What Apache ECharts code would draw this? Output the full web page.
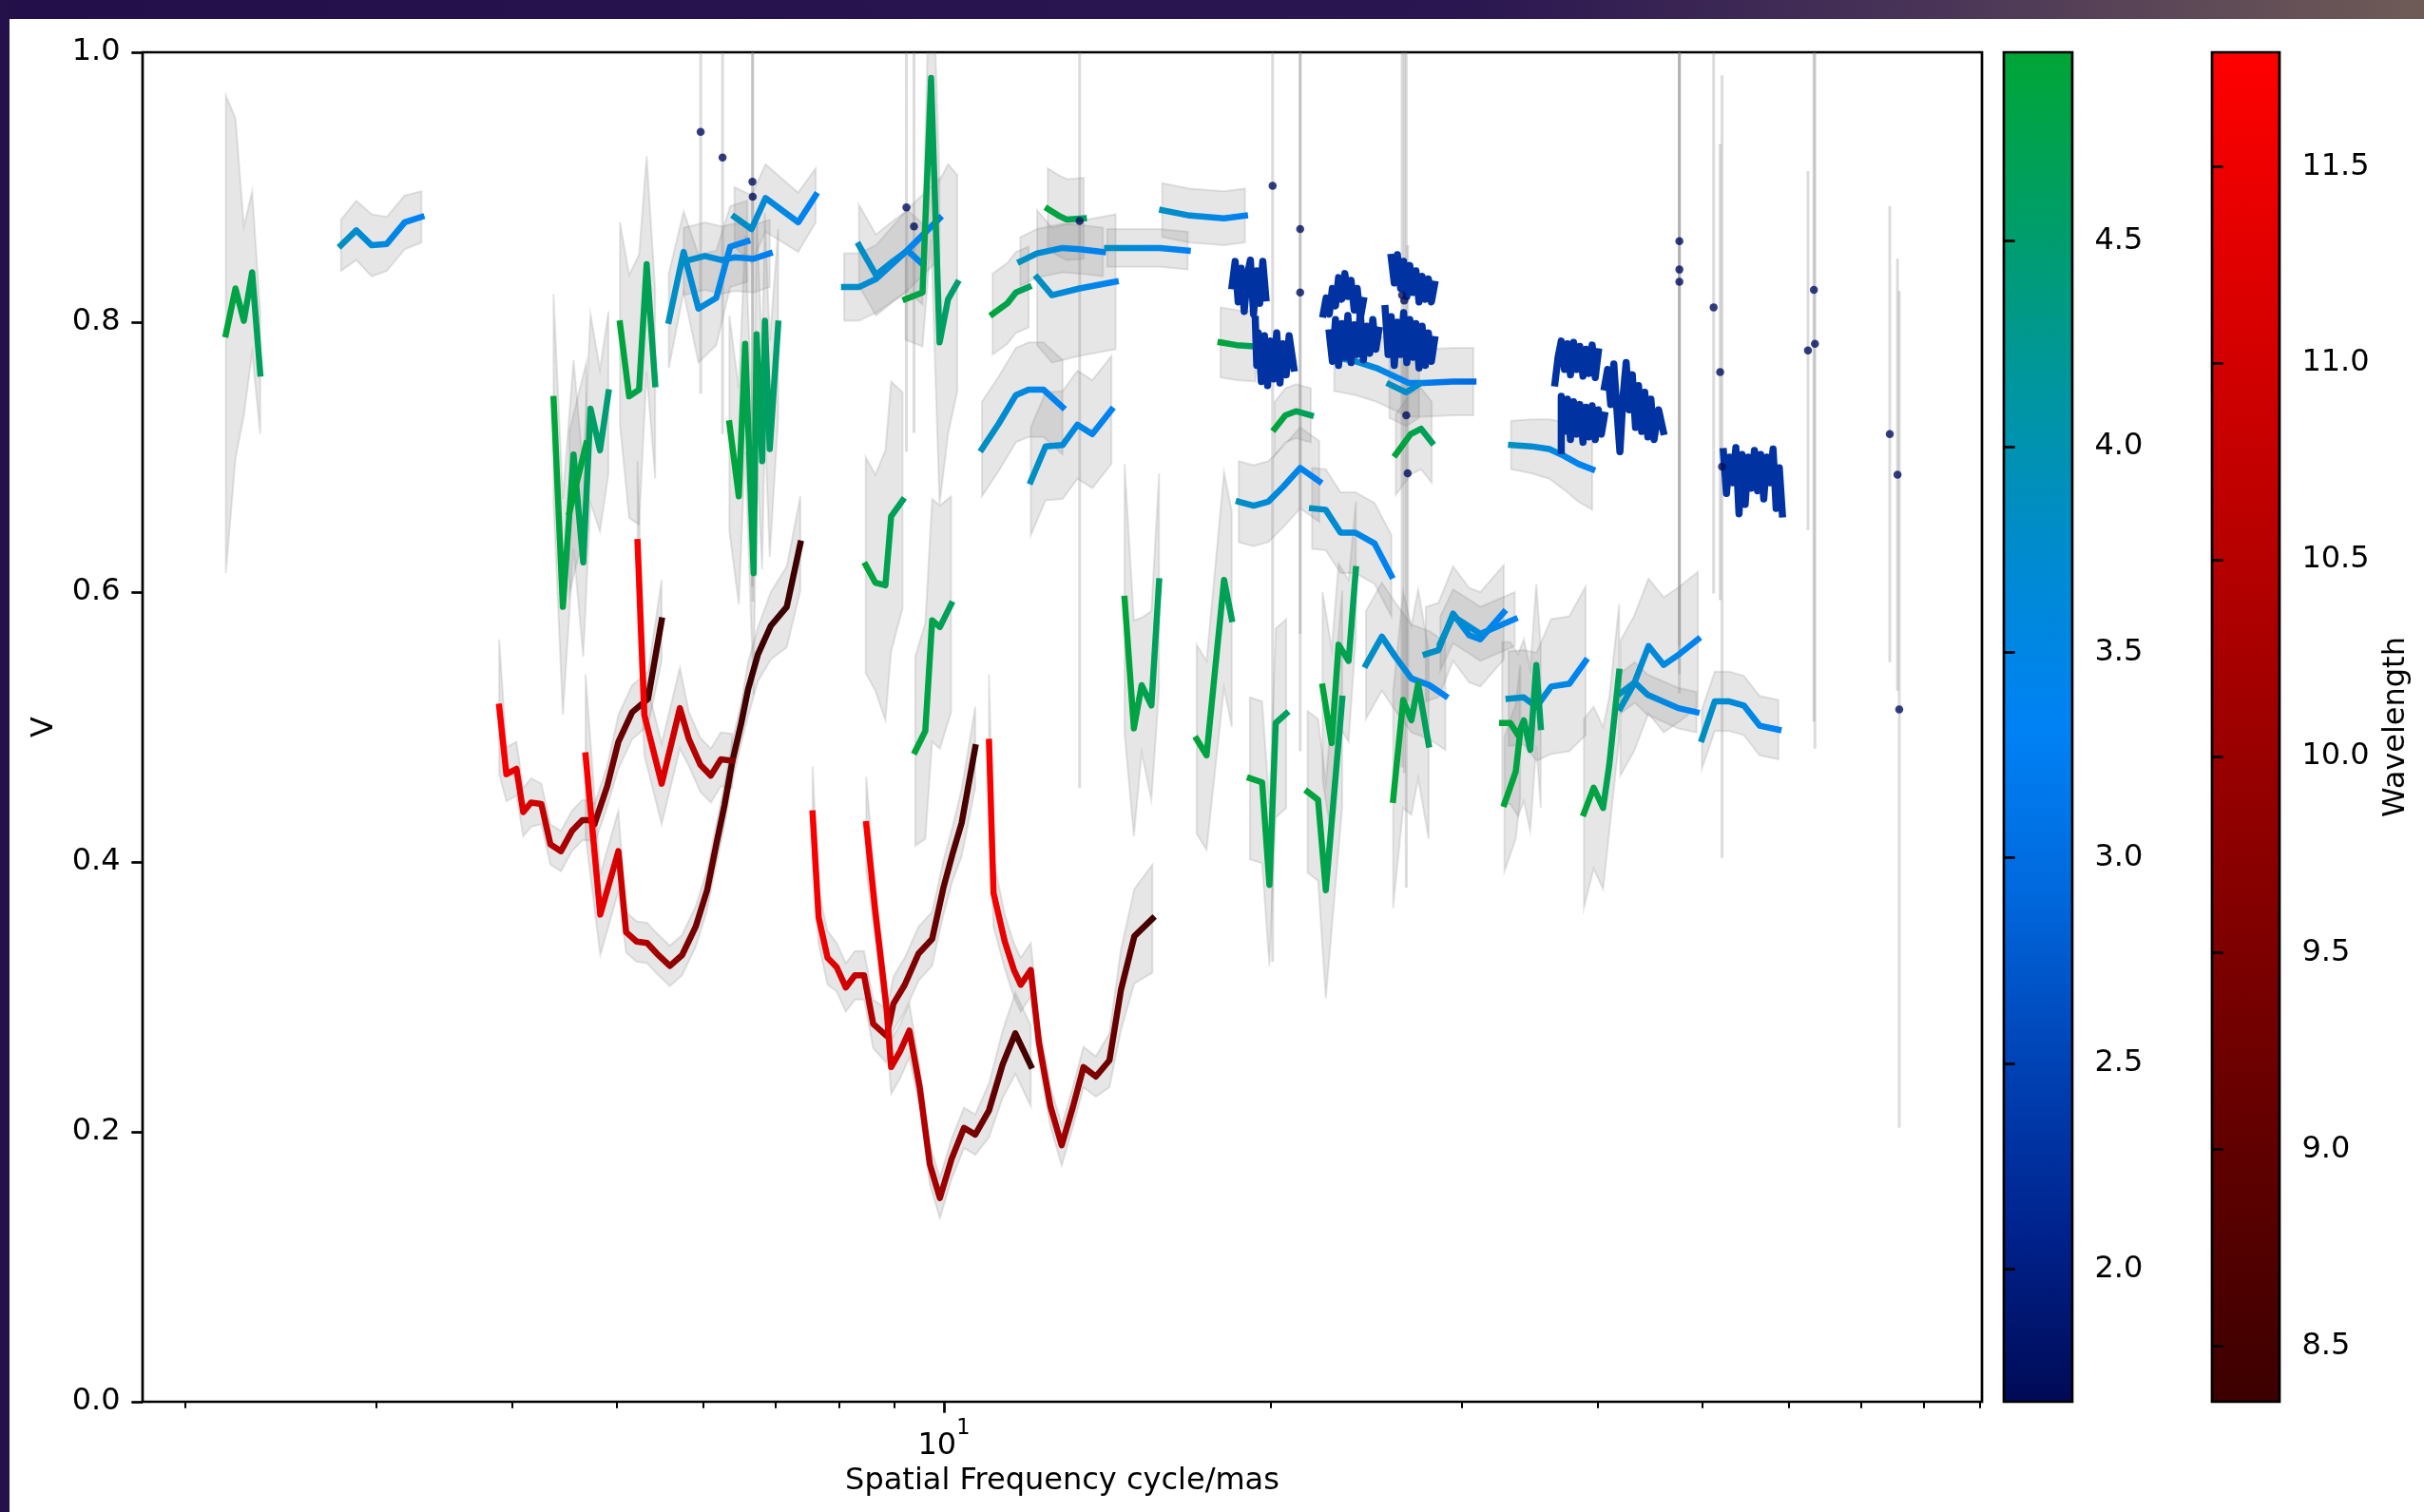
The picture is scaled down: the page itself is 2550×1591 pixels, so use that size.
<!DOCTYPE html>
<html>
<head>
<meta charset="utf-8">
<script src="https://cdn.jsdelivr.net/npm/echarts@6/dist/echarts.min.js"></script>
<style>
html, body { margin: 0; padding: 0; background: #fff; }
#chart { width: 2550px; height: 1591px; }
</style>
</head>
<body>
<div id="chart"></div>
<script>
// each segment: [spatial frequency (cycle/mas), V, error]
// N band (red)
const R1 = [[3.893,0.515,0.05],[3.953,0.465,0.02],[4.038,0.469,0.02],[4.097,0.437,0.018],[4.165,0.444,0.018],[4.257,0.443,0.015],[4.340,0.413,0.015],[4.438,0.408,0.015],[4.543,0.423,0.015],[4.644,0.431,0.015],[4.713,0.431,0.015],[4.765,0.428,0.015],[4.895,0.456,0.015],[5.013,0.489,0.02],[5.162,0.511,0.02],[5.339,0.521,0.02],[5.495,0.579,0.03]];
const R2 = [[4.676,0.479,0.06],[4.824,0.361,0.03],[5.013,0.408,0.03],[5.096,0.348,0.015],[5.211,0.341,0.015],[5.328,0.340,0.015],[5.441,0.332,0.015],[5.592,0.323,0.015],[5.738,0.331,0.015],[5.906,0.352,0.015],[6.051,0.379,0.015],[6.170,0.413,0.015],[6.278,0.442,0.015],[6.382,0.474,0.015],[6.506,0.503,0.015],[6.601,0.528,0.02],[6.741,0.554,0.02],[6.927,0.575,0.025],[7.165,0.589,0.03],[7.375,0.636,0.035]];
const R3 = [[5.221,0.637,0.06],[5.297,0.509,0.03],[5.495,0.458,0.03],[5.712,0.514,0.03],[5.822,0.491,0.02],[5.965,0.472,0.02],[6.099,0.464,0.02],[6.229,0.476,0.02],[6.382,0.475,0.02]];
const R4 = [[7.569,0.436,0.035],[7.666,0.359,0.02],[7.813,0.329,0.02],[7.966,0.322,0.018],[8.122,0.307,0.018],[8.280,0.316,0.018],[8.442,0.316,0.018],[8.607,0.280,0.018],[8.857,0.271,0.02],[8.985,0.295,0.02],[9.203,0.309,0.02],[9.475,0.332,0.02],[9.754,0.343,0.02],[9.990,0.381,0.02],[10.185,0.406,0.02],[10.384,0.429,0.025],[10.688,0.485,0.03]];
const R5 = [[8.481,0.428,0.035],[8.646,0.363,0.02],[8.857,0.291,0.02],[8.941,0.248,0.02],[9.116,0.260,0.02],[9.294,0.275,0.02],[9.500,0.233,0.015],[9.706,0.176,0.015],[9.915,0.151,0.015],[10.165,0.180,0.015],[10.436,0.203,0.015],[10.688,0.198,0.015],[11.005,0.216,0.02],[11.327,0.250,0.025],[11.636,0.273,0.03],[12.024,0.249,0.03]];
const R6 = [[11.005,0.489,0.05],[11.110,0.377,0.025],[11.379,0.341,0.02],[11.601,0.320,0.02],[11.770,0.309,0.02],[12.024,0.320,0.02],[12.235,0.266,0.015],[12.535,0.219,0.015],[12.839,0.190,0.015],[13.154,0.219,0.015],[13.447,0.248,0.015],[13.804,0.241,0.015],[14.208,0.253,0.02],[14.557,0.305,0.03],[14.979,0.345,0.035],[15.565,0.358,0.04]];

// M band (green)
const G1 = [[2.18,0.791,0.177],[2.225,0.825,0.126],[2.265,0.801,0.07],[2.305,0.837,0.06],[2.345,0.762,0.045]];
const G2 = [[4.369,0.743,0.078],[4.456,0.589,0.08],[4.558,0.702,0.07],[4.653,0.622,0.07],[4.725,0.736,0.07],[4.821,0.705,0.06],[4.909,0.748,0.06]];
const G2b = [[4.518,0.659,0.06],[4.683,0.710,0.06]];
const G3 = [[5.030,0.799,0.075],[5.129,0.745,0.09],[5.238,0.750,0.1],[5.323,0.843,0.08],[5.420,0.754,0.07]];
const G4 = [[6.344,0.725,0.08],[6.472,0.671,0.08],[6.560,0.784,0.08],[6.679,0.614,0.09],[6.721,0.791,0.09],[6.801,0.697,0.08],[6.841,0.801,0.08],[6.911,0.706,0.08],[7.037,0.799,0.07]];
const G5 = [[8.472,0.620,0.08],[8.646,0.607,0.08],[8.833,0.605,0.1],[8.941,0.656,0.1],[9.161,0.668,0.08]];
const G6 = [[9.410,0.482,0.07],[9.613,0.497,0.08],[9.754,0.579,0.09],[9.915,0.574,0.09],[10.155,0.591,0.08]];
const G7 = [[14.672,0.595,0.1],[14.964,0.499,0.08],[15.212,0.531,0.05],[15.530,0.516,0.07],[15.786,0.608,0.08]];
const G8 = [[9.218,0.817,0.03],[9.557,0.822,0.04],[9.732,0.981,0.12],[9.909,0.785,0.12],[10.089,0.817,0.1],[10.289,0.829,0.08]];
const G9a = [[11.088,0.806,0.03],[11.443,0.814,0.03],[11.651,0.822,0.03],[11.969,0.826,0.03]];
const G9b = [[12.465,0.884,0.03],[12.751,0.879,0.03],[12.983,0.876,0.03],[13.455,0.877,0.03]];
const G10 = [[17.983,0.785,0.026],[18.606,0.783,0.026],[19.374,0.782,0.026]];
const G11 = [[20.171,0.721,0.02],[20.633,0.731,0.02],[21.105,0.734,0.02],[21.780,0.731,0.02]];
const G12 = [[26.081,0.702,0.03],[26.914,0.717,0.03],[27.521,0.721,0.03],[28.151,0.711,0.03]];
const G14 = [[17.096,0.491,0.07],[17.458,0.479,0.07],[18.118,0.609,0.08],[18.418,0.580,0.08]];
const G15 = [[19.140,0.462,0.06],[19.643,0.459,0.06],[19.948,0.383,0.06],[20.218,0.503,0.07],[20.673,0.510,0.07]];
const G16a = [[21.630,0.452,0.06],[22.118,0.446,0.06],[22.484,0.379,0.08],[23.283,0.521,0.08]];
const G16b = [[22.330,0.530,0.07],[22.766,0.488,0.07],[23.101,0.561,0.06],[23.598,0.549,0.06],[23.965,0.617,0.05]];
const G17 = [[25.935,0.446,0.08],[26.494,0.520,0.08],[26.958,0.505,0.07],[27.350,0.532,0.07],[27.967,0.487,0.07]];
const G18a = [[32.682,0.503,0.06],[33.255,0.503,0.06],[33.804,0.494,0.06],[34.228,0.505,0.06],[34.691,0.483,0.06],[35.138,0.546,0.06],[35.474,0.500,0.06]];
const G18b = [[32.843,0.443,0.05],[33.639,0.467,0.05],[33.960,0.496,0.05]];
const G19 = [[38.875,0.436,0.07],[39.686,0.455,0.06],[40.488,0.440,0.06],[41.023,0.472,0.05],[41.893,0.541,0.05]];

// L band (blue)
const B1 = [[2.783,0.857,0.019],[2.875,0.868,0.022],[2.970,0.857,0.023],[3.067,0.858,0.02],[3.186,0.874,0.02],[3.301,0.878,0.019]];
const B2a = [[5.579,0.801,0.035],[5.757,0.852,0.03],[5.941,0.810,0.04],[6.170,0.818,0.035],[6.356,0.856,0.03],[6.590,0.860,0.03]];
const B2b = [[5.757,0.845,0.025],[6.022,0.849,0.025],[6.243,0.846,0.025],[6.413,0.848,0.025],[6.679,0.847,0.025],[6.911,0.851,0.025]];
const B3 = [[6.413,0.878,0.022],[6.649,0.869,0.025],[6.850,0.892,0.025],[7.341,0.874,0.022],[7.619,0.894,0.02]];
const B4 = [[8.092,0.826,0.025],[8.351,0.826,0.025],[8.658,0.832,0.025],[9.218,0.852,0.03],[9.909,0.877,0.03]];
const B5 = [[8.351,0.857,0.03],[8.658,0.835,0.03],[8.973,0.845,0.03],[9.260,0.853,0.03],[9.557,0.843,0.03]];
const B6 = [[11.759,0.845,0.018],[12.186,0.851,0.018],[12.864,0.855,0.018],[13.337,0.854,0.018],[14.014,0.852,0.018]];
const B7 = [[12.186,0.833,0.05],[12.576,0.820,0.05],[13.337,0.825,0.05],[14.396,0.830,0.05]];
const B8 = [[15.890,0.883,0.02],[16.851,0.879,0.02],[18.113,0.877,0.02],[18.940,0.879,0.02]];
const B9 = [[14.138,0.855,0.014],[14.993,0.855,0.014],[15.817,0.855,0.014],[16.774,0.853,0.014]];
const B10 = [[10.840,0.706,0.035],[11.238,0.725,0.035],[11.651,0.746,0.035],[11.969,0.750,0.035],[12.351,0.750,0.035],[12.864,0.737,0.035]];
const B11 = [[12.024,0.682,0.04],[12.408,0.708,0.04],[12.864,0.709,0.04],[13.276,0.724,0.04],[13.700,0.717,0.04],[14.269,0.735,0.04]];
const B12 = [[18.692,0.667,0.03],[19.290,0.664,0.03],[19.902,0.667,0.03],[20.538,0.678,0.03],[21.293,0.692,0.03],[22.176,0.682,0.03]];
const B13 = [[21.837,0.662,0.03],[22.477,0.661,0.03],[23.199,0.644,0.03],[23.941,0.644,0.03],[24.935,0.636,0.03],[25.842,0.612,0.03]];
const B14 = [[22.889,0.774,0.025],[23.941,0.771,0.025],[25.041,0.766,0.025],[26.791,0.755,0.025],[27.648,0.755,0.025],[29.454,0.756,0.025],[30.747,0.756,0.025]];
const B15 = [[25.732,0.754,0.025],[26.668,0.748,0.025],[27.404,0.754,0.025]];
const B16 = [[27.793,0.554,0.035],[28.551,0.557,0.035],[29.454,0.584,0.035],[30.486,0.568,0.035],[31.204,0.565,0.035],[32.800,0.585,0.035]];
const B17 = [[28.664,0.562,0.02],[29.454,0.582,0.02],[30.257,0.576,0.02],[31.204,0.569,0.02],[33.572,0.580,0.02]];
const B19 = [[24.481,0.546,0.04],[25.322,0.567,0.04],[26.063,0.552,0.04],[26.958,0.536,0.04],[28.013,0.531,0.04],[28.975,0.523,0.04]];
const B20 = [[33.135,0.521,0.035],[34.217,0.522,0.035],[35.161,0.515,0.04],[36.264,0.530,0.05],[37.683,0.532,0.05],[39.015,0.549,0.055]];
const B21 = [[42.003,0.514,0.05],[43.232,0.532,0.05],[44.586,0.560,0.05],[46.050,0.546,0.05],[47.601,0.554,0.05],[49.510,0.565,0.05]];
const B22 = [[42.003,0.525,0.015],[43.303,0.533,0.015],[44.484,0.524,0.015],[47.491,0.514,0.015],[49.364,0.511,0.015]];
const B23 = [[49.93,0.491,0.022],[51.312,0.519,0.022],[52.919,0.519,0.022],[54.575,0.516,0.022],[56.431,0.501,0.022],[58.735,0.498,0.022]];
const B32 = [[33.310,0.709,0.018],[34.748,0.708,0.02],[36.122,0.706,0.022],[37.252,0.701,0.025],[38.419,0.695,0.028],[39.570,0.691,0.03]];

// K band (dense navy spectra), [frequency, V]
const K1a = [[18.43,0.827],[18.55,0.845],[18.67,0.815],[18.79,0.840],[18.91,0.808],[19.04,0.835],[19.16,0.846],[19.29,0.806],[19.42,0.838],[19.54,0.814],[19.67,0.845],[19.80,0.818]];
const K1b = [[19.36,0.802],[19.42,0.768],[19.48,0.792],[19.61,0.756],[19.74,0.790],[19.87,0.753],[20.00,0.786],[20.13,0.758],[20.26,0.792],[20.40,0.755],[20.53,0.784],[20.67,0.761],[20.80,0.790],[21.01,0.766]];
const K2a = [[22.36,0.806],[22.50,0.818],[22.65,0.806],[22.80,0.825],[22.95,0.812],[23.10,0.833],[23.26,0.817],[23.41,0.836],[23.56,0.819],[23.72,0.831],[23.88,0.809],[24.03,0.825],[24.19,0.803],[24.35,0.816]];
const K2b = [[22.65,0.792],[22.80,0.771],[22.95,0.802],[23.10,0.768],[23.26,0.799],[23.41,0.774],[23.56,0.805],[23.72,0.770],[23.88,0.798],[24.03,0.776],[24.19,0.807],[24.35,0.772],[24.52,0.797],[24.68,0.777],[24.84,0.802],[25.00,0.780],[25.16,0.794]];
const K2c = [[25.83,0.848],[26.00,0.829],[26.17,0.850],[26.35,0.825],[26.52,0.845],[26.70,0.819],[26.87,0.842],[27.05,0.822],[27.22,0.838],[27.40,0.815],[27.58,0.834],[27.77,0.817],[27.95,0.832],[28.13,0.815],[28.32,0.828]];
const K2d = [[25.50,0.810],[25.66,0.776],[25.83,0.804],[26.00,0.768],[26.17,0.800],[26.35,0.776],[26.52,0.807],[26.70,0.770],[26.87,0.802],[27.05,0.774],[27.22,0.799],[27.40,0.766],[27.58,0.797],[27.77,0.768],[27.95,0.792],[28.13,0.771],[28.32,0.787]];
const K3a = [[36.56,0.755],[36.80,0.774],[37.05,0.786],[37.30,0.765],[37.54,0.784],[37.78,0.761],[38.03,0.785],[38.28,0.765],[38.54,0.782],[38.80,0.760],[39.05,0.780],[39.30,0.762],[39.56,0.783],[39.82,0.759],[40.08,0.778]];
const K3b = [[37.05,0.705],[37.05,0.745],[37.30,0.719],[37.54,0.743],[37.78,0.713],[38.03,0.741],[38.28,0.717],[38.54,0.739],[38.80,0.711],[39.05,0.737],[39.30,0.715],[39.56,0.738],[39.82,0.713],[40.08,0.735],[40.34,0.717],[40.61,0.731]];
const K3c = [[40.61,0.752],[40.88,0.765],[41.15,0.739],[41.42,0.769],[41.69,0.735],[41.96,0.704],[42.24,0.745],[42.52,0.770],[42.80,0.735],[43.08,0.761],[43.37,0.722],[43.65,0.753],[43.94,0.719],[44.23,0.748],[44.52,0.715],[44.81,0.743],[45.11,0.713],[45.55,0.735],[46.01,0.719]];
const K4 = [[52.26,0.704],[52.60,0.673],[52.96,0.700],[53.31,0.681],[53.66,0.707],[54.02,0.658],[54.37,0.702],[54.73,0.665],[55.09,0.700],[55.45,0.677],[55.82,0.705],[56.19,0.675],[56.56,0.702],[56.93,0.669],[57.31,0.700],[57.69,0.681],[58.07,0.706],[58.45,0.662],[58.84,0.692],[59.22,0.658]];

// single points with large errors
const dotF = [5.969,6.253,6.662,6.666,9.236,9.386,13.337,20.085,21.293,21.293,26.433,26.555,26.668,26.747,47.60,47.60,47.60,51.19,51.90,52.11,62.53,63.32,63.46,74.38,75.61,75.89];
const dotV = [0.941,0.922,0.904,0.893,0.885,0.871,0.875,0.901,0.869,0.822,0.820,0.816,0.731,0.688,0.860,0.839,0.830,0.811,0.763,0.693,0.779,0.824,0.784,0.717,0.687,0.513];
const dotE = [0.194,0.205,0.30,0.30,0.181,0.153,0.42,0.575,0.30,0.34,0.35,0.35,0.35,0.169,0.30,0.30,0.305,0.212,0.169,0.29,0.133,0.32,0.30,0.169,0.16,0.31];

// wavelength (um) of the first channel of each band, and of K / single points
const lamN = 11.8, lamM = 4.96, lamL = 3.9, lamK = 2.3, lamDot = 1.75;

const nSegs = [R1, R2, R3, R4, R5, R6];
const mSegs = [G1, G2, G2b, G3, G4, G5, G6, G7, G8, G9a, G9b, G10, G11, G12, G14, G15, G16a, G16b, G17, G18a, G18b, G19];
const lSegs = [B1, B2a, B2b, B3, B4, B5, B6, B7, B8, B9, B10, B11, B12, B13, B14, B15, B16, B17, B19, B20, B21, B22, B23, B32];
const kSegs = [K1a, K1b, K2a, K2b, K2c, K2d, K3a, K3b, K3c, K4];

// colour maps
const cmapLM = ['#000a55', '#00228c', '#0042b5', '#0068dc', '#0082f5', '#008bd0', '#0096a0', '#009e68', '#00a535'];
const rangeLM = [1.677, 4.959];
const cmapN = ['#3c0000', '#ff0000'];
const rangeN = [8.358, 11.791];
const tickLM = [2.0, 2.5, 3.0, 3.5, 4.0, 4.5];
const tickN = [8.5, 9.0, 9.5, 10.0, 10.5, 11.0, 11.5];

function hex2rgb(h) {
  return [parseInt(h.substr(1, 2), 16), parseInt(h.substr(3, 2), 16), parseInt(h.substr(5, 2), 16)];
}
function lamColor(l) {
  const red = l > 6;
  const cols = red ? cmapN : cmapLM;
  const rng = red ? rangeN : rangeLM;
  let t = (l - rng[0]) / (rng[1] - rng[0]);
  t = Math.max(0, Math.min(1, t));
  const p = t * (cols.length - 1);
  const i = Math.min(Math.floor(p), cols.length - 2);
  const u = p - i;
  const a = hex2rgb(cols[i]), b = hex2rgb(cols[i + 1]);
  return 'rgb(' + a.map((c, k) => Math.round(c + (b[k] - c) * u)).join(',') + ')';
}
// colour along a spectrum: lambda = lam0 * f0 / f
function lineGradient(seg, lam0) {
  const f0 = seg[0][0], f1 = seg[seg.length - 1][0];
  const stops = [];
  for (let i = 0; i <= 4; i++) {
    const t = i / 4;
    stops.push({ offset: t, color: lamColor(lam0 * Math.pow(f0 / f1, t)) });
  }
  return { type: 'linear', x: 0, y: 0, x2: 1, y2: 0, colorStops: stops };
}
function barGradient(cols) {
  return {
    type: 'linear', x: 0, y: 1, x2: 0, y2: 0,
    colorStops: cols.map((c, i) => ({ offset: i / (cols.length - 1), color: c }))
  };
}

const FONT = 'DejaVu Sans';
const FS = 32;
const bandSegs = nSegs.concat(lSegs, mSegs);

const series = [];

// grey error bands
series.push({
  type: 'custom',
  xAxisIndex: 0, yAxisIndex: 0,
  clip: true, silent: true, z: 1,
  data: bandSegs.map(s => [s[0][0], s[0][1]]),
  renderItem: function (params, api) {
    const s = bandSegs[params.dataIndex];
    const pts = [];
    s.forEach(p => pts.push(api.coord([p[0], p[1] + p[2]])));
    for (let i = s.length - 1; i >= 0; i--) pts.push(api.coord([s[i][0], s[i][1] - s[i][2]]));
    return {
      type: 'polygon',
      shape: { points: pts },
      style: { fill: 'rgba(128,128,128,0.2)', stroke: 'rgba(128,128,128,0.2)', lineWidth: 2 }
    };
  }
});

// vertical error bars of single points
series.push({
  type: 'custom',
  xAxisIndex: 0, yAxisIndex: 0,
  clip: true, silent: true, z: 2,
  data: dotF.map((f, i) => [f, dotV[i], dotE[i]]),
  renderItem: function (params, api) {
    const f = api.value(0), v = api.value(1), e = api.value(2);
    const a = api.coord([f, v - e]), b = api.coord([f, v + e]);
    return {
      type: 'line',
      shape: { x1: a[0], y1: a[1], x2: b[0], y2: b[1] },
      style: { stroke: 'rgba(128,128,128,0.28)', lineWidth: 3 }
    };
  }
});

function addLines(segs, lam0, flat, width) {
  segs.forEach(s => {
    series.push({
      type: 'line',
      xAxisIndex: 0, yAxisIndex: 0,
      data: s.map(p => [p[0], p[1]]),
      showSymbol: false, symbol: 'none',
      silent: true, z: 3,
      lineStyle: {
        width: width,
        color: flat ? lamColor(lam0) : lineGradient(s, lam0),
        cap: 'square', join: 'round'
      }
    });
  });
}
addLines(nSegs, lamN, false, 6.5);
addLines(lSegs, lamL, false, 6.5);
addLines(mSegs, lamM, false, 6.5);
addLines(kSegs, lamK, true, 7.5);

series.push({
  type: 'scatter',
  xAxisIndex: 0, yAxisIndex: 0,
  data: dotF.map((f, i) => [f, dotV[i]]),
  symbolSize: 8.5, silent: true, z: 4,
  itemStyle: { color: lamColor(lamDot) }
});

const minorTicks = [2, 3, 4, 5, 6, 7, 8, 9, 20, 30, 40, 50, 60, 70, 80, 90];

const option = {
  animation: false,
  backgroundColor: '#ffffff',
  textStyle: { fontFamily: FONT, color: '#000' },
  graphic: [
    {
      type: 'rect', left: 0, top: 0, z: 10,
      shape: { width: 2550, height: 20 },
      style: {
        fill: {
          type: 'linear', x: 0, y: 0, x2: 1, y2: 0,
          colorStops: [
            { offset: 0, color: '#23104a' },
            { offset: 0.6, color: '#2a1650' },
            { offset: 0.8, color: '#4a3558' },
            { offset: 1, color: '#6f5b56' }
          ]
        }
      }
    },
    { type: 'rect', left: 0, top: 0, z: 10, shape: { width: 10, height: 1591 }, style: { fill: '#24114a' } }
  ],
  grid: [
    { left: 150, top: 55, width: 1935, height: 1420, show: true, borderColor: '#000', borderWidth: 2.7, backgroundColor: 'transparent', outerBoundsMode: 'none' },
    { left: 2108, top: 55, width: 72, height: 1420, show: true, borderColor: '#000', borderWidth: 2.7, backgroundColor: barGradient(cmapLM), outerBoundsMode: 'none' },
    { left: 2327, top: 55, width: 71, height: 1420, show: true, borderColor: '#000', borderWidth: 2.7, backgroundColor: barGradient(cmapN), outerBoundsMode: 'none' }
  ],
  xAxis: [
    {
      type: 'log', logBase: 10, gridIndex: 0, position: 'bottom',
      min: 1.827, max: 90.45,
      name: 'Spatial Frequency cycle/mas',
      nameLocation: 'middle', nameGap: 63,
      nameTextStyle: { fontSize: FS, color: '#000', fontFamily: FONT },
      axisLine: { show: false },
      splitLine: { show: false },
      axisTick: { show: true, customValues: [10], length: 11.7, lineStyle: { color: '#000', width: 2.7 } },
      axisLabel: {
        customValues: [10], margin: 17,
        formatter: function () { return '{a|10}{b|1}'; },
        rich: {
          a: { fontSize: FS, lineHeight: 46, verticalAlign: 'bottom', color: '#000', fontFamily: FONT },
          b: { fontSize: 22.4, lineHeight: 20, verticalAlign: 'top', color: '#000', fontFamily: FONT }
        }
      }
    },
    {
      type: 'log', logBase: 10, gridIndex: 0, position: 'bottom',
      min: 1.827, max: 90.45,
      axisLine: { show: false },
      splitLine: { show: false },
      axisTick: { show: true, customValues: minorTicks, length: 6.7, lineStyle: { color: '#000', width: 2 } },
      axisLabel: { show: false }
    },
    { type: 'value', gridIndex: 1, min: 0, max: 1, show: false },
    { type: 'value', gridIndex: 2, min: 0, max: 1, show: false }
  ],
  yAxis: [
    {
      type: 'value', gridIndex: 0, min: 0, max: 1, interval: 0.2,
      name: 'V', nameLocation: 'middle', nameRotate: 90, nameGap: 87,
      nameTextStyle: { fontSize: FS, color: '#000', fontFamily: FONT },
      axisLine: { show: false },
      splitLine: { show: false },
      axisTick: { show: true, length: 11.7, lineStyle: { color: '#000', width: 2.7 } },
      axisLabel: { margin: 23.4, fontSize: FS, color: '#000', fontFamily: FONT, formatter: v => v.toFixed(1) }
    },
    {
      type: 'value', gridIndex: 1, position: 'right', min: rangeLM[0], max: rangeLM[1],
      axisLine: { show: false },
      splitLine: { show: false },
      axisTick: { show: true, customValues: tickLM, length: 11.7, lineStyle: { color: '#000', width: 2.7 } },
      axisLabel: { customValues: tickLM, margin: 23.4, fontSize: FS, color: '#000', fontFamily: FONT, formatter: v => v.toFixed(1) }
    },
    {
      type: 'value', gridIndex: 2, position: 'right', min: rangeN[0], max: rangeN[1],
      name: 'Wavelength', nameLocation: 'middle', nameRotate: 90, nameGap: 107,
      nameTextStyle: { fontSize: FS, color: '#000', fontFamily: FONT },
      axisLine: { show: false },
      splitLine: { show: false },
      axisTick: { show: true, customValues: tickN, length: 11.7, lineStyle: { color: '#000', width: 2.7 } },
      axisLabel: { customValues: tickN, margin: 23.4, fontSize: FS, color: '#000', fontFamily: FONT, formatter: v => v.toFixed(1) }
    }
  ],
  series: series
};

const chart = echarts.init(document.getElementById('chart'));
chart.setOption(option);
</script>
</body>
</html>
